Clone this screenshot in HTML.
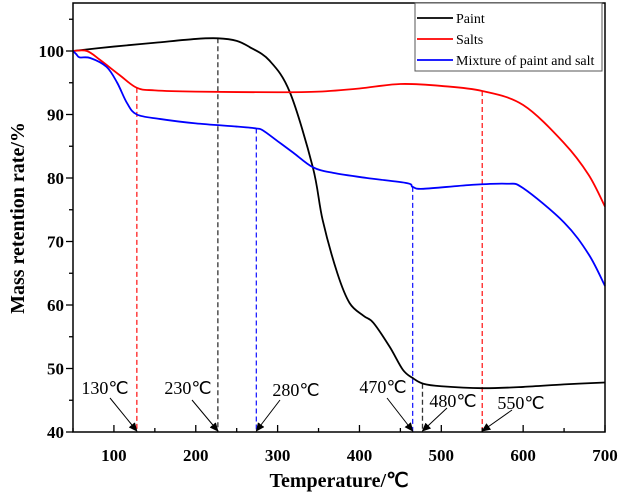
<!DOCTYPE html>
<html><head><meta charset="utf-8"><style>
html,body{margin:0;padding:0;background:#fff;}
svg{display:block;font-family:"Liberation Serif",serif;}
</style></head><body>
<svg id="chart" width="618" height="492"></svg>
<script>
const paintT=[50,100,150,200,227,250,266,290,315,343,355,373,388,405,417,437,453,465,478,500,550,600,650,700];
const paintV=[100,100.7,101.3,101.9,102,101.6,100.6,98.5,93.5,81.7,73.4,65,60.3,58.3,57.2,53.4,49.8,48.5,47.6,47.2,46.9,47.1,47.5,47.8];
const saltT=[50,67,83,107,128,150,200,300,350,400,450,500,550,600,650,680,700];
const saltV=[100,100,98.6,96.2,94.2,93.8,93.6,93.5,93.6,94.1,94.8,94.5,93.7,91.5,85.5,80.5,75.5];
const mixT=[50,54,58,71,91,104,116,128,156,200,250,274,282,300,319,343,368,409,458,465,478,535,580,600,650,680,700];
const mixV=[100,99.5,99.0,98.9,97.5,95,91.8,90,89.3,88.6,88.1,87.8,87.5,85.8,84,81.7,80.8,80,79.2,78.6,78.3,78.9,79.1,78.4,73,68,63];
const xTicks=[100,200,300,400,500,600,700];
const yTicks=[40,50,60,70,80,90,100];
const marks=[{t:128,v:94.2,c:"#ff2020",s:"130℃",lx:105,ly:394,ax:110,ay:398},
{t:227,v:102,c:"#333",s:"230℃",lx:188,ly:394,ax:192,ay:400},
{t:274,v:87.8,c:"#2020ff",s:"280℃",lx:296,ly:396,ax:280,ay:400},
{t:465,v:78.6,c:"#2020ff",s:"470℃",lx:383,ly:393,ax:387,ay:398},
{t:477,v:47.6,c:"#333",s:"480℃",lx:453,ly:407,ax:447,ay:408},
{t:550,v:93.7,c:"#ff2020",s:"550℃",lx:521,ly:409,ax:512,ay:410}];
const L=73,R=605,T=3,B=432;
const x=v=>L+(v-50)*(R-L)/650;
const y=v=>B-(v-40)*6.35;
const svg=document.getElementById('chart');
const NS="http://www.w3.org/2000/svg";
function el(tag,attrs,parent){const e=document.createElementNS(NS,tag);for(const k in attrs)e.setAttribute(k,attrs[k]);(parent||svg).appendChild(e);return e;}
const defs=el('defs',{});
const mk=el('marker',{id:'arr',markerWidth:9,markerHeight:8,refX:8,refY:4,orient:'auto',markerUnits:'userSpaceOnUse'},defs);
el('path',{d:'M0,0 L9,4 L0,8 Z',fill:'#000'},mk);
marks.forEach(m=>{
 const d=el('line',{x1:x(m.t),x2:x(m.t),y1:y(m.v),y2:B,stroke:m.c,'stroke-width':1.3,'stroke-dasharray':'5,3'});
 
 
});
function smooth(pts){
 let d='M'+pts[0][0]+','+pts[0][1];
 for(let i=0;i<pts.length-1;i++){
  const p0=pts[Math.max(0,i-1)],p1=pts[i],p2=pts[i+1],p3=pts[Math.min(pts.length-1,i+2)];
  const c1=[p1[0]+(p2[0]-p0[0])/6,p1[1]+(p2[1]-p0[1])/6];
  const c2=[p2[0]-(p3[0]-p1[0])/6,p2[1]-(p3[1]-p1[1])/6];
  d+=' C'+c1[0]+','+c1[1]+' '+c2[0]+','+c2[1]+' '+p2[0]+','+p2[1];
 }
 return d;
}
function series(T_,V,c,name){
 const p=el('path',{d:smooth(T_.map((t,i)=>[x(t),y(V[i])])),fill:'none',stroke:c,'stroke-width':1.8,'stroke-linejoin':'round'});
 
 
}
series(paintT,paintV,'#000','paint-line');
series(saltT,saltV,'#ff0000','salts-line');
series(mixT,mixV,'#0000ff','mixture-line');
const fr=el('rect',{x:L,y:T,width:R-L,height:B-T,fill:'none',stroke:'#000','stroke-width':1.5});


for(let v=50;v<=700;v+=50){const major=v%100===0;el('line',{x1:x(v),x2:x(v),y1:B,y2:B-(major?7:4),stroke:'#000','stroke-width':1.3});}
xTicks.forEach(v=>{const t=el('text',{x:x(v),y:B+29,'text-anchor':'middle','font-size':17,'font-weight':'bold'});t.textContent=v;
 
 });
for(let v=40;v<=105;v+=5){const major=v%10===0;el('line',{x1:L,x2:L-(major?7:4),y1:y(v),y2:y(v),stroke:'#000','stroke-width':1.3});}
yTicks.forEach(v=>{const t=el('text',{x:L-9,y:y(v)+6,'text-anchor':'end','font-size':17,'font-weight':'bold'});t.textContent=v;
 
 });
marks.forEach(m=>{
 const a=el('line',{x1:m.ax,y1:m.ay,x2:x(m.t),y2:B-1,stroke:'#000','stroke-width':1,'marker-end':'url(#arr)'});
 
 
 const t=el('text',{x:m.lx,y:m.ly,'text-anchor':'middle','font-size':18});t.textContent=m.s;
 
 
});
const xt=el('text',{x:339,y:487,'text-anchor':'middle','font-size':20,'font-weight':'bold'});xt.textContent='Temperature/℃';


const yt=el('text',{x:0,y:0,'text-anchor':'middle','font-size':20,'font-weight':'bold',transform:'translate(24,218) rotate(-90)'});yt.textContent='Mass retention rate/%';


const lg=el('g',{});


el('rect',{x:415,y:3,width:187,height:68,fill:'#fff',stroke:'#555','stroke-width':1},lg);
[['Paint','#000'],['Salts','#ff0000'],['Mixture of paint and salt','#0000ff']].forEach((e,i)=>{
 const yy=18+i*21;
 const g=el('g',{},lg);
 
 
 el('line',{x1:417,x2:453,y1:yy,y2:yy,stroke:e[1],'stroke-width':1.8},g);
 const t=el('text',{x:456,y:yy+5,'font-size':14},g);t.textContent=e[0];
});
</script>
</body></html>
